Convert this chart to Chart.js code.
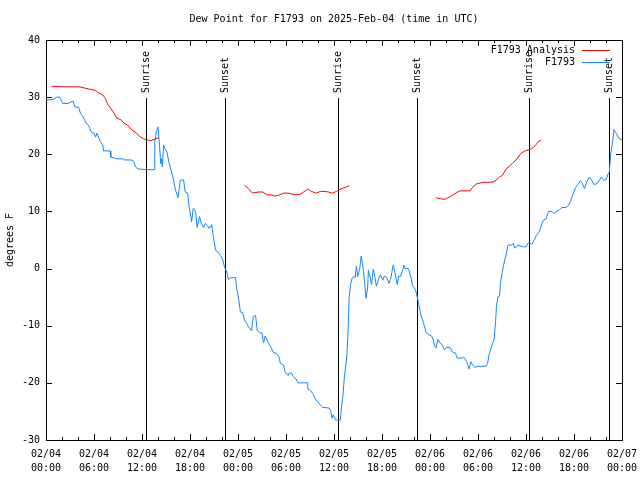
<!DOCTYPE html>
<html>
<head>
<meta charset="utf-8">
<title>Dew Point for F1793</title>
<script src="https://cdn.jsdelivr.net/npm/chart.js@4.4.1/dist/chart.umd.min.js"></script>
<style>
    html, body { margin: 0; padding: 0; background: #fff; }
    #wrap { width: 640px; height: 480px; }
</style>
</head>
<body>
<div id="wrap"><canvas id="dewChart" width="640" height="480"></canvas></div>
<script>
// Chart text
const titleText = 'Dew Point for F1793 on 2025-Feb-04 (time in UTC)';
const yAxisTitle = 'degrees F';
const xTickDates = ['02/04', '02/04', '02/04', '02/04', '02/05', '02/05', '02/05', '02/05', '02/06', '02/06', '02/06', '02/06', '02/07'];
const xTickTimes = ['00:00', '06:00', '12:00', '18:00', '00:00', '06:00', '12:00', '18:00', '00:00', '06:00', '12:00', '18:00', '00:00'];

// Sun events (hours since 02/04 00:00 UTC)
const sunHours = [12.54, 22.42, 36.54, 46.42, 60.4, 70.4];
const sunLabels = ['Sunrise', 'Sunset', 'Sunrise', 'Sunset', 'Sunrise', 'Sunset'];

// F1793 observations (hours since 02/04 00:00 UTC, degrees F)
const obsHours = [
    0.0, 0.9, 1.3, 1.7, 1.9, 2.1, 2.75, 3.0, 3.4, 3.6, 4.1, 4.3, 4.6, 5.0, 5.3, 5.7, 6.0, 6.2, 6.35, 6.5,
    6.8, 7.1, 7.2, 8.0, 8.1, 8.9, 9.7, 9.8, 10.75, 11.0, 11.15, 11.4, 11.75, 12.7, 13.5, 13.6, 13.8, 14.0, 14.2, 14.35,
    14.45, 14.55, 14.7, 14.85, 15.1, 15.4, 15.8, 16.2, 16.5, 16.8, 17.2, 17.4, 17.7, 17.9, 18.2, 18.4, 18.7, 18.9, 19.2, 19.4,
    19.7, 19.9, 20.2, 20.4, 20.7, 20.9, 21.2, 21.5, 21.8, 22.1, 22.3, 22.6, 22.8, 23.1, 23.7, 23.8, 24.1, 24.3, 24.6, 24.8,
    25.1, 25.3, 25.7, 25.9, 26.2, 26.4, 26.7, 27.0, 27.2, 27.4, 27.7, 27.9, 28.2, 28.4, 28.75, 29.1, 29.3, 29.7, 29.9, 30.25,
    30.4, 30.7, 30.9, 31.25, 31.5, 32.7, 32.75, 33.1, 33.4, 33.75, 34.1, 34.3, 34.6, 35.4, 35.6, 35.75, 35.9, 36.2, 36.8, 36.9,
    37.1, 37.3, 37.6, 37.75, 37.9, 38.1, 38.25, 38.5, 38.65, 38.8, 38.95, 39.2, 39.4, 39.6, 39.8, 40.0, 40.2, 40.3, 40.5, 40.7,
    40.9, 41.1, 41.3, 41.6, 41.8, 42.1, 42.3, 42.6, 42.9, 43.1, 43.4, 43.6, 43.9, 44.1, 44.3, 44.6, 44.75, 44.9, 45.3, 45.6,
    45.8, 46.2, 46.5, 46.8, 47.2, 47.5, 47.75, 48.2, 48.4, 48.6, 48.75, 49.0, 49.3, 49.5, 49.8, 50.1, 50.5, 50.8, 51.2, 51.4,
    52.3, 52.6, 52.9, 53.1, 53.3, 53.6, 54.0, 55.0, 55.2, 55.4, 55.8, 56.0, 56.2, 56.3, 56.5, 56.7, 56.8, 57.0, 57.2, 57.5,
    57.75, 58.2, 58.4, 58.6, 59.0, 59.4, 59.7, 60.0, 60.3, 60.75, 61.0, 61.3, 61.7, 62.0, 62.2, 62.5, 62.8, 63.25, 63.5, 63.8,
    64.2, 64.5, 65.0, 65.3, 65.6, 65.9, 66.2, 66.5, 66.8, 67.0, 67.3, 67.6, 67.9, 68.2, 68.5, 68.9, 69.2, 69.4, 69.7, 70.0,
    70.3, 70.4, 70.6, 70.8, 71.0, 71.3, 71.6, 71.9, 72.0
];
const obsDew = [
    29.5, 29.6, 30.0, 30.0, 29.5, 28.9, 28.9, 29.1, 29.3, 28.3, 28.2, 27.2, 26.6, 25.5, 25.1, 23.8, 23.7, 23.0, 23.7, 23.2,
    22.2, 21.6, 20.6, 20.6, 19.5, 19.2, 19.2, 19.0, 19.0, 18.7, 17.9, 17.5, 17.4, 17.3, 17.3, 22.2, 24.0, 24.8, 21.3, 18.3,
    19.2, 17.8, 21.6, 21.0, 20.5, 18.4, 16.4, 13.7, 12.4, 15.5, 15.5, 13.4, 13.2, 10.8, 8.2, 10.5, 10.0, 7.2, 9.1, 7.9,
    7.2, 7.9, 7.5, 7.0, 7.7, 5.8, 3.2, 2.9, 2.3, 1.5, 0.3, -0.6, -1.9, -1.6, -1.6, -3.2, -5.5, -7.6, -7.7, -9.0,
    -9.6, -10.2, -10.9, -8.4, -8.2, -10.8, -11.2, -11.3, -13.0, -11.8, -12.8, -13.2, -14.0, -14.7, -14.8, -15.4, -16.6, -16.9, -18.1, -18.7,
    -18.3, -18.3, -18.9, -19.3, -20.0, -20.0, -21.1, -21.4, -22.0, -23.0, -23.5, -23.9, -24.3, -24.4, -25.0, -26.2, -25.6, -26.5, -26.5, -24.8,
    -22.5, -19.0, -15.4, -11.3, -4.9, -2.6, -1.7, -1.4, -1.6, 0.4, -1.4, -0.2, 2.2, 0.5, -2.0, -5.2, -3.4, -0.3, -1.4, -2.8,
    -0.1, -1.4, -3.1, -1.7, -1.1, -2.0, -1.3, -1.6, -2.6, -1.7, 0.6, -0.6, -2.8, -1.3, -1.4, -0.2, 0.6, 0.0, 0.0, -1.4,
    -2.9, -3.8, -5.5, -7.8, -9.6, -11.1, -11.5, -11.8, -12.5, -13.6, -13.9, -12.4, -13.1, -13.3, -14.2, -13.8, -13.8, -14.6, -14.8, -15.7,
    -15.6, -16.3, -17.6, -16.3, -16.8, -17.3, -17.1, -17.1, -16.6, -14.9, -13.2, -12.5, -9.3, -6.7, -4.9, -4.8, -2.6, -0.9, 0.6, 2.4,
    4.1, 4.1, 4.4, 3.6, 4.1, 3.9, 3.8, 3.8, 4.5, 4.3, 4.9, 5.8, 6.6, 7.9, 8.5, 8.7, 10.0, 10.0, 9.6, 10.0,
    10.3, 10.7, 10.7, 11.0, 11.9, 13.1, 14.2, 14.7, 15.4, 15.0, 14.0, 15.2, 16.0, 15.5, 14.7, 14.9, 15.5, 16.0, 15.5, 15.5,
    16.7, 16.7, 20.2, 21.9, 24.3, 23.6, 22.8, 22.6, 22.6
];

// F1793 analysis (null = no analysis, line breaks there)
const anaHours = [
    0.7, 2.0, 4.2, 5.4, 6.2, 6.5, 7.1, 7.4, 7.7, 8.1, 8.5, 8.8, 9.4, 9.8, 10.2, 10.75, 11.25, 11.7, 12.2, 12.7, 13.1, 13.7, 14.1,
    19.0,
    24.8, 25.3, 25.8, 26.5, 27.1, 27.6, 28.2, 28.6, 29.0, 29.7, 30.3, 30.9, 31.75, 32.2, 32.7, 33.2, 33.8, 34.3, 34.9, 35.3, 35.8, 36.3, 36.75, 37.4, 37.9,
    43.0,
    48.75, 49.4, 49.8, 50.4, 51.0, 51.7, 52.5, 53.0, 53.3, 53.8, 54.6, 55.4, 56.0, 56.7, 57.1, 57.5, 57.9, 58.3, 58.75, 59.4, 59.9, 60.75, 61.2, 61.6, 61.9
];
const anaDew = [
    31.9, 31.8, 31.8, 31.4, 31.2, 30.8, 30.4, 29.8, 28.8, 28.0, 27.2, 26.4, 26.0, 25.4, 25.1, 24.2, 23.8, 23.1, 22.7, 22.5, 22.4, 22.7, 22.9,
    null,
    14.6, 14.0, 13.2, 13.4, 13.4, 12.9, 12.9, 12.7, 12.8, 13.2, 13.2, 13.0, 13.0, 13.4, 13.9, 13.5, 13.2, 13.5, 13.5, 13.4, 13.2, 13.5, 13.9, 14.2, 14.5,
    null,
    12.4, 12.2, 12.1, 12.5, 13.0, 13.6, 13.6, 13.6, 14.2, 14.8, 15.1, 15.1, 15.2, 16.0, 16.4, 17.4, 17.9, 18.4, 19.0, 20.2, 20.6, 21.0, 21.6, 22.3, 22.5
];

const monoFont = { family: '"DejaVu Sans Mono", "Liberation Mono", monospace', size: 10 };
const fontStr = '10px "DejaVu Sans Mono", "Liberation Mono", monospace';

function toPoints(xs, ys) {
    return xs.map((h, i) => ({ x: h, y: ys[i] }));
}

function crisp(v) {
    return Math.round(v) + 0.5;
}

// gnuplot-like frame, inward ticks and the sunrise/sunset markers
const framePlugin = {
    id: 'frame',
    beforeDatasetsDraw(chart) {
        const { ctx, chartArea: a, scales: { x, y } } = chart;
        ctx.save();
        ctx.strokeStyle = '#000';
        ctx.lineWidth = 1;

        // sun lines with rotated labels
        ctx.font = fontStr;
        ctx.fillStyle = '#000';
        sunHours.forEach((h, i) => {
            const px = crisp(x.getPixelForValue(h));
            ctx.beginPath();
            ctx.moveTo(px, a.top + 58);
            ctx.lineTo(px, a.bottom);
            ctx.stroke();
            ctx.save();
            ctx.translate(px, a.top + 53);
            ctx.rotate(-Math.PI / 2);
            ctx.textAlign = 'left';
            ctx.textBaseline = 'middle';
            ctx.fillText(sunLabels[i], 0, 0);
            ctx.restore();
        });

        // x ticks every 2 h, major every 6 h
        ctx.beginPath();
        for (let h = 0; h <= 72; h += 2) {
            const px = crisp(x.getPixelForValue(h));
            const len = h % 6 === 0 ? 6 : 3;
            ctx.moveTo(px, a.bottom);
            ctx.lineTo(px, a.bottom - len);
            ctx.moveTo(px, a.top);
            ctx.lineTo(px, a.top + len);
        }
        // y ticks
        for (let v = -30; v <= 40; v += 10) {
            const py = crisp(y.getPixelForValue(v));
            ctx.moveTo(a.left, py);
            ctx.lineTo(a.left + 6, py);
            ctx.moveTo(a.right, py);
            ctx.lineTo(a.right - 6, py);
        }
        ctx.stroke();

        // border
        ctx.strokeRect(crisp(a.left), crisp(a.top), Math.round(a.right - a.left), Math.round(a.bottom - a.top));
        ctx.restore();
    },
    afterDraw(chart) {
        const { ctx, chartArea: a } = chart;
        ctx.save();
        ctx.font = fontStr;
        ctx.fillStyle = '#000';
        ctx.textBaseline = 'middle';

        // title, centred over the plot
        ctx.textAlign = 'center';
        ctx.fillText(titleText, (a.left + a.right) / 2, 19);

        // legend, top right inside the plot
        ctx.textAlign = 'right';
        chart.data.datasets.forEach((ds, i) => {
            const ly = a.top + 10 + i * 12;
            ctx.fillText(ds.label, a.right - 47, ly);
            ctx.strokeStyle = ds.borderColor;
            ctx.lineWidth = 1;
            ctx.beginPath();
            ctx.moveTo(a.right - 40, crisp(ly));
            ctx.lineTo(a.right - 12, crisp(ly));
            ctx.stroke();
        });
        ctx.restore();
    }
};

function initDewChart() {
    const ctx = document.getElementById('dewChart').getContext('2d');

    new Chart(ctx, {
        type: 'line',
        data: {
            datasets: [
                {
                    label: 'F1793 Analysis',
                    data: toPoints(anaHours, anaDew),
                    borderColor: '#ff0000',
                    borderWidth: 1,
                    pointRadius: 0,
                    tension: 0,
                    spanGaps: false,
                    fill: false
                },
                {
                    label: 'F1793',
                    data: toPoints(obsHours, obsDew),
                    borderColor: '#1088ff',
                    borderWidth: 1,
                    pointRadius: 0,
                    tension: 0,
                    fill: false
                }
            ]
        },
        options: {
            responsive: false,
            animation: false,
            layout: {
                padding: { left: 0, right: 18, top: 40, bottom: 0 }
            },
            plugins: {
                legend: { display: false },
                tooltip: { enabled: false },
                title: { display: false }
            },
            scales: {
                x: {
                    type: 'linear',
                    min: 0,
                    max: 72,
                    grid: { display: false, drawTicks: false },
                    border: { display: false },
                    ticks: {
                        stepSize: 6,
                        autoSkip: false,
                        maxRotation: 0,
                        padding: 7,
                        color: '#000',
                        font: { ...monoFont, lineHeight: 1.4 },
                        callback: function(value) {
                            const i = Math.round(value / 6);
                            return [xTickDates[i], xTickTimes[i]];
                        }
                    },
                    afterFit: function(scale) {
                        scale.height = 40;
                        scale.paddingLeft = 0;
                        scale.paddingRight = 0;
                    }
                },
                y: {
                    min: -30,
                    max: 40,
                    grid: { display: false, drawTicks: false },
                    border: { display: false },
                    ticks: {
                        stepSize: 10,
                        padding: 6,
                        color: '#000',
                        font: monoFont
                    },
                    title: {
                        display: true,
                        text: yAxisTitle,
                        color: '#000',
                        font: monoFont,
                        padding: { top: 4, bottom: 4 }
                    },
                    afterFit: function(scale) {
                        scale.width = 46;
                        scale.paddingTop = 0;
                        scale.paddingBottom = 0;
                    }
                }
            }
        },
        plugins: [framePlugin]
    });
}

document.addEventListener('DOMContentLoaded', initDewChart);
</script>
</body>
</html>
